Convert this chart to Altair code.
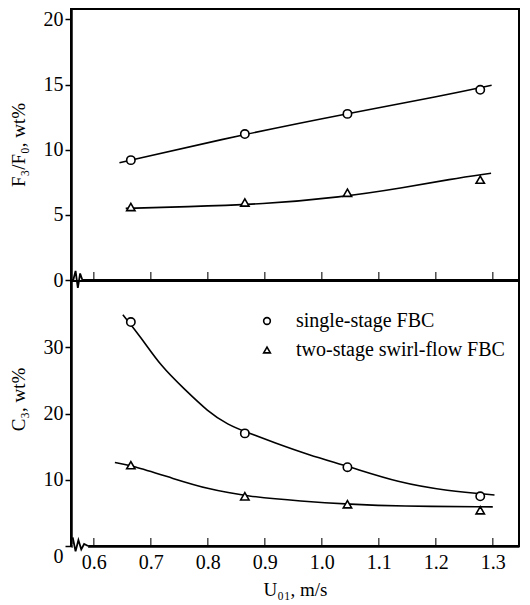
import altair as alt
import pandas as pd

# ---------------- data ----------------
series_names = ["single-stage FBC", "two-stage swirl-flow FBC"]
shape_range = ["circle", "triangle-up"]

u_measured = [0.665, 0.865, 1.045, 1.278]
f3_single = [9.2, 11.2, 12.75, 14.6]
f3_two = [5.6, 5.95, 6.7, 7.7]
c3_single = [33.8, 17.0, 11.9, 7.5]
c3_two = [12.2, 7.5, 6.3, 5.4]

# hand-drawn fitted curves, read point by point
f3_single_fit_u = [0.645, 0.865, 1.042, 1.212, 1.298]
f3_single_fit_v = [9.0, 11.2, 12.75, 14.15, 14.95]
f3_two_fit_u = [0.656, 0.76, 0.897, 1.032, 1.147, 1.224, 1.297]
f3_two_fit_v = [5.5, 5.62, 5.82, 6.34, 7.1, 7.73, 8.19]
c3_single_fit_u = [0.651, 0.682, 0.718, 0.760, 0.800, 0.835, 0.870, 0.917,
                   0.975, 1.051, 1.133, 1.221, 1.303]
c3_single_fit_v = [34.9, 31.6, 27.1, 23.6, 20.3, 18.3, 17.1, 15.6,
                   13.8, 11.9, 9.6, 8.3, 7.7]
c3_two_fit_u = [0.637, 0.665, 0.742, 0.800, 0.868, 0.965, 1.051, 1.133, 1.30]
c3_two_fit_v = [12.6, 12.2, 10.1, 8.6, 7.5, 6.75, 6.3, 6.0, 5.9]

# axis-break zigzags near the origin
top_break_u = [0.564, 0.568, 0.572, 0.576, 0.580]
top_break_v = [0.0, 0.7, -0.6, 0.5, 0.0]
bot_break_u = [0.563, 0.568, 0.573, 0.578, 0.583, 0.590]
bot_break_v = [1.3, -0.8, 0.9, -0.5, 0.3, 0.0]

x_ticks = [0.6, 0.7, 0.8, 0.9, 1.0, 1.1, 1.2, 1.3]
f3_ticks = [0, 5, 10, 15, 20]
c3_ticks = [0, 10, 20, 30]

x_domain = [0.56, 1.346]
f3_domain = [0, 20.8]
c3_domain = [0, 40]

# ---------------- tables ----------------
def pts(v1, v2):
    rows = []
    for name, vals in zip(series_names, [v1, v2]):
        for u, v in zip(u_measured, vals):
            rows.append({"u": u, "v": v, "series": name})
    return pd.DataFrame(rows)

def fits(u1, v1, u2, v2):
    rows = []
    for name, us, vs in [(series_names[0], u1, v1), (series_names[1], u2, v2)]:
        for i, (u, v) in enumerate(zip(us, vs)):
            rows.append({"u": u, "v": v, "series": name, "order": i})
    return pd.DataFrame(rows)

def brk(us, vs):
    return pd.DataFrame({"u": us, "v": vs, "order": list(range(len(us)))})

top_pts = pts(f3_single, f3_two)
bot_pts = pts(c3_single, c3_two)
top_fit = fits(f3_single_fit_u, f3_single_fit_v, f3_two_fit_u, f3_two_fit_v)
bot_fit = fits(c3_single_fit_u, c3_single_fit_v, c3_two_fit_u, c3_two_fit_v)
tick_df = pd.DataFrame({"u": x_ticks, "v": [0] * len(x_ticks)})

FONT = "Liberation Serif"
W = 448
H_TOP = 271
H_BOT = 265

xscale = alt.Scale(domain=x_domain, nice=False, zero=False)


def panel(pdf, fdf, bdf, ydom, yvals, ytitle, height, bottom, legend):
    yscale = alt.Scale(domain=ydom, nice=False, zero=False)
    if bottom:
        xaxis = alt.Axis(values=x_ticks, format=".1f", ticks=False,
                         labelPadding=6, title="U\u2080\u2081, m/s",
                         titlePadding=8, grid=False)
        lb = {"condition": {"test": "datum.value == 0", "value": "top"},
              "value": "middle"}
        yaxis = alt.Axis(values=yvals, title=ytitle, grid=False, tickSize=6,
                         labelPadding=2, titlePadding=15, labelBaseline=lb,
                         titleY=118)
    else:
        xaxis = alt.Axis(values=x_ticks, labels=False, ticks=False,
                         title=None, grid=False)
        yaxis = alt.Axis(values=yvals, title=ytitle, grid=False, tickSize=6,
                         labelPadding=2, titlePadding=15)

    lines = alt.Chart(fdf).mark_line(color="black", strokeWidth=1.6,
                                     interpolate="basis").encode(
        x=alt.X("u:Q", scale=xscale, axis=xaxis),
        y=alt.Y("v:Q", scale=yscale, axis=yaxis),
        detail="series:N",
        order="order:Q",
    )
    # axis break: a gap in the axis line with a small zigzag over it
    gap = alt.Chart(bdf).mark_rule(color="white", strokeWidth=4).encode(
        x=alt.X("min(u):Q", scale=xscale),
        x2="max(u):Q",
        y=alt.Y("zero:Q", scale=yscale),
    ).transform_calculate(zero="0")
    zig = alt.Chart(bdf).mark_line(color="black", strokeWidth=1.8).encode(
        x=alt.X("u:Q", scale=xscale),
        y=alt.Y("v:Q", scale=yscale),
        order="order:Q",
    )
    # white discs under the hollow markers so the curves do not show through
    under = [
        alt.Chart(pdf[pdf["series"] == name]).mark_point(
            shape=shp, filled=True, color="white", size=60, opacity=1
        ).encode(x=alt.X("u:Q", scale=xscale), y=alt.Y("v:Q", scale=yscale))
        for name, shp in zip(series_names, shape_range)
    ]
    if legend:
        leg = alt.Legend(orient="none", legendX=186, legendY=30, title=None,
                         symbolSize=45, symbolStrokeWidth=1.6,
                         symbolStrokeColor="black", symbolOpacity=1,
                         labelFont=FONT, labelFontSize=20, labelColor="black",
                         labelLimit=0, labelOffset=19, rowPadding=9)
    else:
        leg = None
    points = alt.Chart(pdf).mark_point(filled=False, color="black",
                                       strokeWidth=1.6, size=70,
                                       opacity=1).encode(
        x=alt.X("u:Q", scale=xscale),
        y=alt.Y("v:Q", scale=yscale),
        shape=alt.Shape("series:N",
                        scale=alt.Scale(domain=series_names, range=shape_range),
                        legend=leg),
    )
    ticks = alt.Chart(tick_df).mark_tick(orient="vertical", size=8,
                                         thickness=1.5, yOffset=-4,
                                         color="black").encode(
        x=alt.X("u:Q", scale=xscale),
        y=alt.Y("v:Q", scale=yscale),
    )
    return alt.layer(lines, ticks, gap, zig, *under, points).properties(
        width=W, height=height)


top = panel(top_pts, top_fit, brk(top_break_u, top_break_v), f3_domain,
            f3_ticks, "F\u2083/F\u2080, wt%", H_TOP, False, False)
bottom = panel(bot_pts, bot_fit, brk(bot_break_u, bot_break_v), c3_domain,
               c3_ticks, "C\u2083, wt%", H_BOT, True, True)

chart = alt.vconcat(top, bottom, spacing=1, bounds="flush").resolve_legend(
    shape="independent"
).properties(
    padding={"left": 0, "top": 0, "right": 0, "bottom": 0},
    background="white",
).configure_view(
    stroke="black", strokeWidth=2
).configure_axis(
    labelFont=FONT, labelFontSize=20, labelColor="black",
    titleFont=FONT, titleFontSize=19, titleFontWeight="normal",
    titleColor="black", domainColor="black", domainWidth=2.5,
    tickColor="black", tickWidth=1.5,
)

chart.save("out.html", embed_options={"renderer": "svg", "actions": False})
